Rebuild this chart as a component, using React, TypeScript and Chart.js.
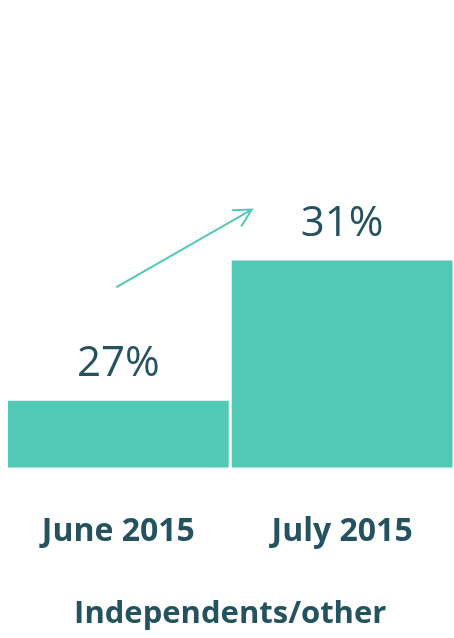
import React, { useEffect, useRef } from "react";
import { Chart, registerables } from "chart.js";

Chart.register(...registerables);

const categories: string[] = ["June 2015", "July 2015"];
const shares: number[] = [27, 31];
const valueLabels: string[] = ["27%", "31%"];
const axisTitle = "Independents/other";

const BAR_COLOR = "#52C9B4";
const TEXT_COLOR = "#25525F";
const FONT = "'Open Sans', 'Noto Sans', sans-serif";

const annotatePlugin = {
  id: "annotate",
  afterDatasetsDraw(chart: any) {
    const ctx = chart.ctx;
    const meta = chart.getDatasetMeta(0);
    ctx.save();
    // value labels
    ctx.fillStyle = TEXT_COLOR;
    ctx.font = `400 42px ${FONT}`;
    ctx.textAlign = "center";
    ctx.textBaseline = "alphabetic";
    meta.data.forEach((bar: any, i: number) => {
      ctx.fillText(valueLabels[i], bar.x, bar.y - 25);
    });
    // trend arrow
    const a = meta.data[0];
    const b = meta.data[1];
    const x1 = a.x - 1.5;
    const y1 = a.y - 114;
    const x2 = b.x - b.width / 2 + 20;
    const y2 = b.y - 51;
    ctx.strokeStyle = BAR_COLOR;
    ctx.lineWidth = 2;
    ctx.lineCap = "round";
    ctx.beginPath();
    ctx.moveTo(x1, y1);
    ctx.lineTo(x2, y2);
    const ang = Math.atan2(y2 - y1, x2 - x1);
    const len = 19;
    const spread = (28 * Math.PI) / 180;
    ctx.moveTo(x2 - len * Math.cos(ang - spread), y2 - len * Math.sin(ang - spread));
    ctx.lineTo(x2, y2);
    ctx.lineTo(x2 - len * Math.cos(ang + spread), y2 - len * Math.sin(ang + spread));
    ctx.stroke();
    ctx.restore();
  },
};

export default function App() {
  const ref = useRef<HTMLCanvasElement | null>(null);
  useEffect(() => {
    if (!ref.current) return;
    const chart = new Chart(ref.current, {
      type: "bar",
      data: {
        labels: categories,
        datasets: [
          {
            data: shares,
            backgroundColor: BAR_COLOR,
            borderWidth: 0,
            barPercentage: 1,
            categoryPercentage: 0.9866,
          },
        ],
      },
      options: {
        animation: false,
        responsive: false,
        maintainAspectRatio: false,
        devicePixelRatio: 1,
        layout: { padding: { left: 6.5, right: 0, top: 187, bottom: 0 } },
        plugins: { legend: { display: false }, tooltip: { enabled: false } },
        scales: {
          x: {
            grid: { display: false, drawTicks: false },
            border: { display: false },
            afterFit: (scale: any) => {
              scale.paddingLeft = 0;
              scale.paddingRight = 0;
            },
            ticks: {
              color: TEXT_COLOR,
              padding: 45,
              maxRotation: 0,
              font: { family: FONT, size: 32, weight: "bold" },
            },
            title: {
              display: true,
              text: axisTitle,
              color: TEXT_COLOR,
              font: { family: FONT, size: 31, weight: "bold" },
              padding: { top: 0, bottom: 5 },
            },
          },
          y: { display: false, min: 25.1, max: 33.1 },
        },
      },
      plugins: [annotatePlugin],
    });
    return () => chart.destroy();
  }, []);
  return (
    <div style={{ position: "absolute", left: 0, top: 0, width: 454, height: 638, background: "#fff" }}>
      <canvas ref={ref} width={454} height={638} style={{ display: "block" }} />
    </div>
  );
}
